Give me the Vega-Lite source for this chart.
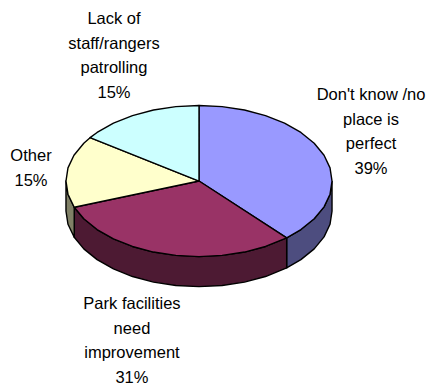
{
"$schema":"https://vega.github.io/schema/vega-lite/v6.json",
"width":429,"height":386,"autosize":"none","padding":0,
"background":"white","view":{"stroke":null},
"layer":[
{"data":{"values":[
{"part":"a","n":0,"x":1,"y":0},{"part":"a","n":1,"x":0.985,"y":-0.099},{"part":"a","n":2,"x":0.94,"y":-0.194},{"part":"a","n":3,"x":0.866,"y":-0.284},{"part":"a","n":4,"x":0.766,"y":-0.365},{"part":"a","n":5,"x":0.659,"y":-0.427},{"part":"a","n":6,"x":0.659,"y":-0.653},{"part":"a","n":7,"x":0.766,"y":-0.591},{"part":"a","n":8,"x":0.866,"y":-0.51},{"part":"a","n":9,"x":0.94,"y":-0.42},{"part":"a","n":10,"x":0.985,"y":-0.325},{"part":"a","n":11,"x":1,"y":-0.226},{"part":"a","n":12,"x":1,"y":0},
{"part":"b","n":0,"x":0.659,"y":-0.427},{"part":"b","n":1,"x":0.5,"y":-0.492},{"part":"b","n":2,"x":0.342,"y":-0.534},{"part":"b","n":3,"x":0.174,"y":-0.559},{"part":"b","n":4,"x":0,"y":-0.568},{"part":"b","n":5,"x":-0.174,"y":-0.559},{"part":"b","n":6,"x":-0.342,"y":-0.534},{"part":"b","n":7,"x":-0.5,"y":-0.492},{"part":"b","n":8,"x":-0.643,"y":-0.435},{"part":"b","n":9,"x":-0.766,"y":-0.365},{"part":"b","n":10,"x":-0.866,"y":-0.284},{"part":"b","n":11,"x":-0.938,"y":-0.197},{"part":"b","n":12,"x":-0.938,"y":-0.423},{"part":"b","n":13,"x":-0.866,"y":-0.51},{"part":"b","n":14,"x":-0.766,"y":-0.591},{"part":"b","n":15,"x":-0.643,"y":-0.661},{"part":"b","n":16,"x":-0.5,"y":-0.718},{"part":"b","n":17,"x":-0.342,"y":-0.76},{"part":"b","n":18,"x":-0.174,"y":-0.785},{"part":"b","n":19,"x":0,"y":-0.794},{"part":"b","n":20,"x":0.174,"y":-0.785},{"part":"b","n":21,"x":0.342,"y":-0.76},{"part":"b","n":22,"x":0.5,"y":-0.718},{"part":"b","n":23,"x":0.659,"y":-0.653},{"part":"b","n":24,"x":0.659,"y":-0.427},
{"part":"c","n":0,"x":-0.938,"y":-0.197},{"part":"c","n":1,"x":-0.985,"y":-0.099},{"part":"c","n":2,"x":-1,"y":0},{"part":"c","n":3,"x":-1,"y":-0.226},{"part":"c","n":4,"x":-0.985,"y":-0.325},{"part":"c","n":5,"x":-0.938,"y":-0.423},{"part":"c","n":6,"x":-0.938,"y":-0.197},
{"part":"d","n":0,"x":0,"y":0},{"part":"d","n":1,"x":0,"y":0.568},{"part":"d","n":2,"x":0.174,"y":0.559},{"part":"d","n":3,"x":0.342,"y":0.534},{"part":"d","n":4,"x":0.5,"y":0.492},{"part":"d","n":5,"x":0.643,"y":0.435},{"part":"d","n":6,"x":0.766,"y":0.365},{"part":"d","n":7,"x":0.866,"y":0.284},{"part":"d","n":8,"x":0.94,"y":0.194},{"part":"d","n":9,"x":0.985,"y":0.099},{"part":"d","n":10,"x":1,"y":0},{"part":"d","n":11,"x":0.985,"y":-0.099},{"part":"d","n":12,"x":0.94,"y":-0.194},{"part":"d","n":13,"x":0.866,"y":-0.284},{"part":"d","n":14,"x":0.766,"y":-0.365},{"part":"d","n":15,"x":0.659,"y":-0.427},{"part":"d","n":16,"x":0,"y":0},
{"part":"e","n":0,"x":0,"y":0},{"part":"e","n":1,"x":0.659,"y":-0.427},{"part":"e","n":2,"x":0.5,"y":-0.492},{"part":"e","n":3,"x":0.342,"y":-0.534},{"part":"e","n":4,"x":0.174,"y":-0.559},{"part":"e","n":5,"x":0,"y":-0.568},{"part":"e","n":6,"x":-0.174,"y":-0.559},{"part":"e","n":7,"x":-0.342,"y":-0.534},{"part":"e","n":8,"x":-0.5,"y":-0.492},{"part":"e","n":9,"x":-0.643,"y":-0.435},{"part":"e","n":10,"x":-0.766,"y":-0.365},{"part":"e","n":11,"x":-0.866,"y":-0.284},{"part":"e","n":12,"x":-0.938,"y":-0.197},{"part":"e","n":13,"x":0,"y":0},
{"part":"f","n":0,"x":0,"y":0},{"part":"f","n":1,"x":-0.938,"y":-0.197},{"part":"f","n":2,"x":-0.985,"y":-0.099},{"part":"f","n":3,"x":-1,"y":0},{"part":"f","n":4,"x":-0.985,"y":0.099},{"part":"f","n":5,"x":-0.94,"y":0.194},{"part":"f","n":6,"x":-0.866,"y":0.284},{"part":"f","n":7,"x":-0.819,"y":0.326},{"part":"f","n":8,"x":0,"y":0},
{"part":"g","n":0,"x":0,"y":0},{"part":"g","n":1,"x":-0.819,"y":0.326},{"part":"g","n":2,"x":-0.766,"y":0.365},{"part":"g","n":3,"x":-0.643,"y":0.435},{"part":"g","n":4,"x":-0.5,"y":0.492},{"part":"g","n":5,"x":-0.342,"y":0.534},{"part":"g","n":6,"x":-0.174,"y":0.559},{"part":"g","n":7,"x":0,"y":0.568},{"part":"g","n":8,"x":0,"y":0}
]},
"mark":{"type":"line","stroke":"black","strokeWidth":1.4,"strokeJoin":"round","clip":false},
"encoding":{
"x":{"field":"x","type":"quantitative","axis":null,"scale":{"domain":[-1.496,1.729],"nice":false,"zero":false}},
"y":{"field":"y","type":"quantitative","axis":null,"scale":{"domain":[-1.541,1.361],"nice":false,"zero":false}},
"order":{"field":"n"},
"fill":{"field":"part","type":"nominal","legend":null,"scale":{"domain":["a","b","c","d","e","f","g"],"range":["#4d4d7f","#4d1a33","#808066","#9999ff","#993366","#ffffcc","#ccffff"]}}
}},
{"data":{"values":[
{"label":"Lack of\nstaff/rangers\npatrolling\n15%","lx":-0.639,"ly":1.218},
{"label":"Don't know /no\nplace is\nperfect\n39%","lx":1.293,"ly":0.647},
{"label":"Other\n15%","lx":-1.263,"ly":0.185},
{"label":"Park facilities\nneed\nimprovement\n31%","lx":-0.504,"ly":-0.925}
]},
"mark":{"type":"text","font":"Liberation Sans","fontSize":16.5,"lineBreak":"\n","lineHeight":24.6,"align":"center","baseline":"middle","color":"black"},
"encoding":{
"x":{"field":"lx","type":"quantitative"},
"y":{"field":"ly","type":"quantitative"},
"text":{"field":"label"}
}}
]
}
